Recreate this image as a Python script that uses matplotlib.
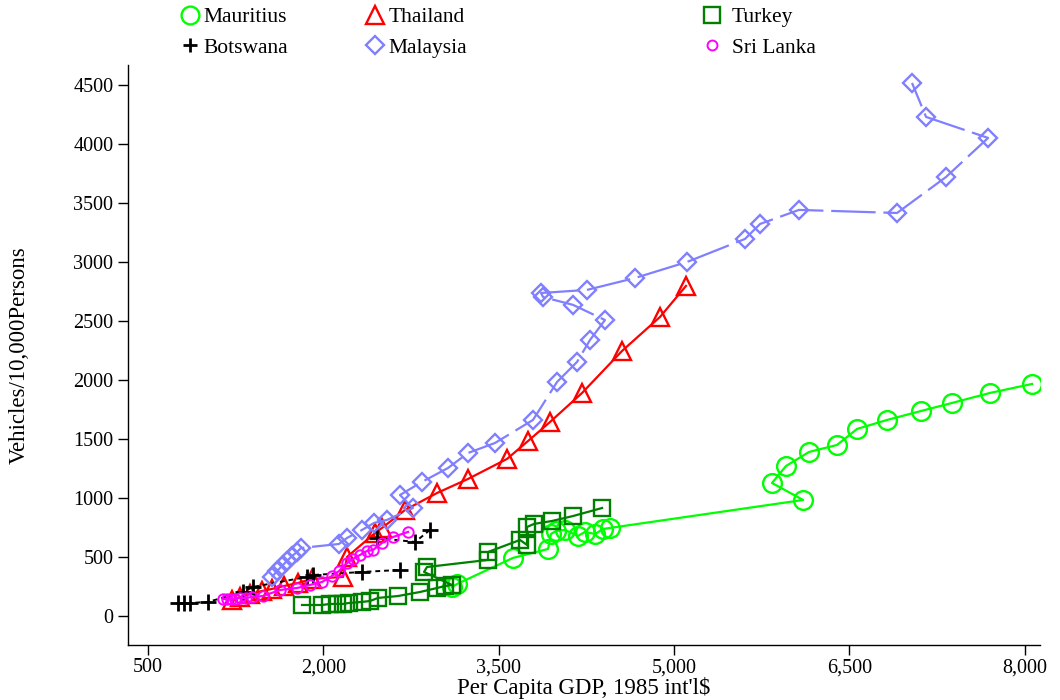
import numpy as np
import matplotlib
matplotlib.use("Agg")
import matplotlib.pyplot as plt
from matplotlib.lines import Line2D

plt.rcParams['font.family'] = ['Liberation Serif', 'DejaVu Serif']

# ---------------- data ----------------
mauritius_gdp = [3101, 3144, 3623, 3923, 3948, 3991, 4068, 4179, 4239, 4325, 4393, 4453,
                 6105, 5839, 5959, 6156, 6395, 6567, 6823, 7114, 7379, 7704, 8064]
mauritius_veh = [246, 271, 492, 568, 695, 720, 729, 678, 712, 695, 737, 746,
                 983, 1127, 1271, 1390, 1449, 1585, 1661, 1737, 1805, 1890, 1966]

thailand_gdp = [1219, 1287, 1373, 1475, 1561, 1664, 1784, 1903, 2169, 2203, 2442, 2502,
                2699, 2973, 3238, 3572, 3752, 3940, 4214, 4556, 4881, 5103]
thailand_veh = [136, 161, 186, 212, 229, 254, 280, 314, 331, 500, 703, 746,
                898, 1042, 1161, 1331, 1483, 1644, 1890, 2246, 2534, 2797]

turkey_gdp = [1818, 1989, 2057, 2117, 2169, 2220, 2331, 2400, 2468, 2639, 2827, 2973,
              3041, 3101, 2862, 2887, 3409, 3409, 3683, 3743, 3743, 3803, 3957, 4137, 4385]
turkey_veh = [93, 93, 102, 102, 102, 110, 119, 127, 153, 169, 203, 237,
              254, 263, 373, 415, 475, 542, 644, 602, 754, 780, 805, 847, 915]

botswana_gdp = [757, 808, 859, 1013, 1313, 1398, 1860, 1912, 2331, 2656, np.nan, 2459, 2785, 2913]
botswana_veh = [110, 110, 110, 119, 203, 246, 331, 347, 373, 390, np.nan, 661, 627, 729]

malaysia_gdp = [1561, 1604, 1647, 1689, 1732, 1775, 1809, 2134, 2203, 2331, 2434, 2545,
                2767, 2656, 2844, 3067, 3238, 3469, 3794, 4000, 4171, 4282, 4410,
                4137, 3880, 3863, 4256, 4667, 5112, 5608, 5737, 6070, 6909, 7328,
                7688, 7157, 7037]
malaysia_veh = [330, 381, 424, 466, 508, 542, 576, 610, 661, 729, 788, 814,
                915, 1025, 1136, 1254, 1381, 1466, 1661, 1983, 2153, 2339, 2508,
                2636, 2703, 2737, 2763, 2864, 3000, 3195, 3322, 3441, 3415, 3720,
                4051, 4229, 4517]

srilanka_gdp = [1142, 1176, 1210, 1244, 1287, 1339, 1390, 1484, 1629, 1775, 1886, 1989,
                2074, 2134, 2203, 2254, 2314, 2374, 2425, 2502, 2596, 2725]
srilanka_veh = [144, 144, 144, 144, 153, 153, 161, 169, 220, 237, 263, 288,
                339, 381, 449, 483, 517, 551, 559, 619, 669, 712]

xticks = [500, 2000, 3500, 5000, 6500, 8000]
xticklabels = ["500", "2,000", "3,500", "5,000", "6,500", "8,000"]
yticks = [0, 500, 1000, 1500, 2000, 2500, 3000, 3500, 4000, 4500]

# ---------------- styles ----------------
C_MAU = '#00FF00'
C_THA = '#FF0000'
C_TUR = '#007F00'
C_BOT = '#000000'
C_MAL = '#8080FF'
C_SRI = '#FF00FF'

fig = plt.figure(figsize=(10.6, 7.0), dpi=100)
ax = fig.add_axes([128/1060, 55/700, (1040-128)/1060, (645-65)/700])

lw = 1.6
mew = 1.7
s_mau = dict(color=C_MAU, lw=lw, marker='o', ms=13.5, mfc='none', mec=C_MAU, mew=mew)
s_tha = dict(color=C_THA, lw=lw, marker='^', ms=13.5, mfc='none', mec=C_THA, mew=mew)
s_tur = dict(color=C_TUR, lw=lw, marker='s', ms=12, mfc='none', mec=C_TUR, mew=mew)
s_bot = dict(color=C_BOT, lw=1.4, marker='+', ms=11, mec=C_BOT, mew=2.0,
             linestyle=(0, (2.5, 2.0)))
s_mal = dict(color=C_MAL, lw=lw, marker='D', ms=9.5, mfc='none', mec=C_MAL, mew=mew,
             linestyle=(0, (20, 3.5)))
s_sri = dict(color=C_SRI, lw=lw, marker='o', ms=7.5, mfc='none', mec=C_SRI, mew=1.4)

ax.plot(mauritius_gdp, mauritius_veh, **s_mau)
ax.plot(thailand_gdp, thailand_veh, **s_tha)
ax.plot(turkey_gdp, turkey_veh, **s_tur)
ax.plot(botswana_gdp, botswana_veh, **s_bot)
ax.plot(malaysia_gdp, malaysia_veh, **s_mal)
ax.plot(srilanka_gdp, srilanka_veh, **s_sri)

ax.set_xlim(329, 8132)
ax.set_ylim(-246, 4669)
ax.set_xticks(xticks)
ax.set_xticklabels(xticklabels)
ax.set_yticks(yticks)
ax.set_yticklabels([str(v) for v in yticks])
for side in ('top', 'right'):
    ax.spines[side].set_visible(False)
for side in ('left', 'bottom'):
    ax.spines[side].set_linewidth(1.0)
ax.tick_params(axis='both', direction='out', length=7.5, width=1.0, labelsize=14.5)
ax.tick_params(axis='x', pad=2)
ax.tick_params(axis='y', pad=3)

ax.set_xlabel("Per Capita GDP, 1985 int'l$", fontsize=16.5, labelpad=0)
ax.set_ylabel("Vehicles/10,000Persons", fontsize=16.5)
ax.yaxis.set_label_coords((30 - 128) / 912, 0.5)

# ---------------- legend (three columns) ----------------
def proxy(st):
    d = {k: v for k, v in st.items() if k not in ('linestyle', 'lw', 'color')}
    return Line2D([], [], linestyle='none', **d)

cols = [
    ([proxy(s_mau), proxy(s_bot)], ["Mauritius", "Botswana"], 183, 0.3),
    ([proxy(s_tha), proxy(s_mal)], ["Thailand", "Malaysia"], 368, 0.3),
    ([proxy(s_tur), proxy(s_sri)], ["Turkey", "Sri Lanka"], 705, 0.6),
]
for handles, labels, xpx, tp in cols:
    fig.legend(handles, labels, loc='center left',
               bbox_to_anchor=(xpx/1060, 1 - 32.5/700),
               frameon=False, fontsize=15.5, handlelength=0.65, handletextpad=tp,
               labelspacing=0.5, borderpad=0, borderaxespad=0, markerscale=0.95)

fig.savefig("out.png", dpi=100)
